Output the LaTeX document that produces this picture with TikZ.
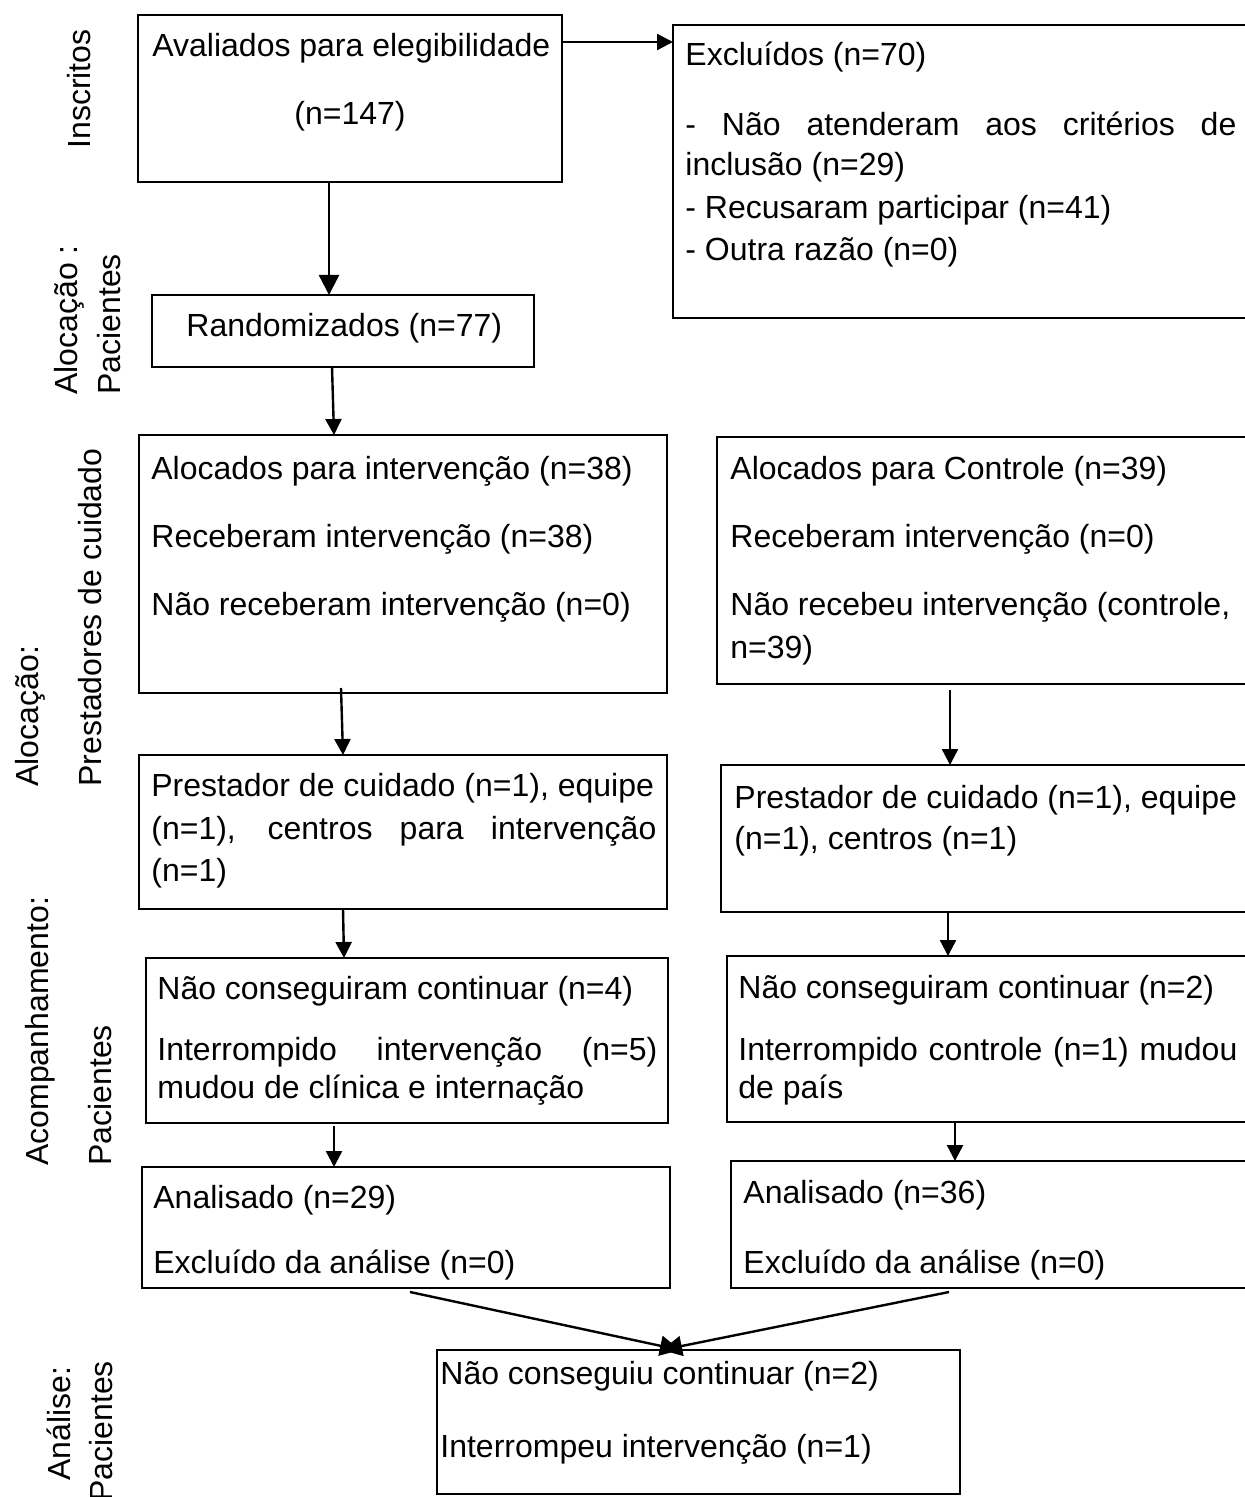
\documentclass[tikz,border=0pt]{standalone}
\usepackage{fontspec}
\setmainfont{Liberation Sans}
\usetikzlibrary{arrows.meta,fit,calc}
\newcommand{\fsz}{\fontsize{16pt}{21pt}\selectfont}
\tikzset{
  box/.style={draw, line width=1pt, inner sep=0pt, outer sep=0pt},
  txt/.style={inner sep=0pt, anchor=base west, font=\fsz},
  ctxt/.style={inner sep=0pt, anchor=base, font=\fsz},
  rot/.style={inner sep=0pt, rotate=90, anchor=base west, font=\fsz},
  arr/.style={line width=1.2pt, -{Triangle[length=8pt,width=8pt]}},
  bigarr/.style={line width=1.2pt, -{Triangle[length=10pt,width=10pt]}},
}
\begin{document}
\begin{tikzpicture}[x=0.5pt,y=-0.5pt]
\useasboundingbox (0,0) rectangle (1245,1497);
\clip (0,0) rectangle (1245,1497);

% boxes
\node[box, fit={(138,15) (562,182)}] (A) {};
\node[box, fit={(673,25) (1262,318)}] (B) {};
\node[box, fit={(152,295) (534,367)}] (C) {};
\node[box, fit={(139,435) (667,693)}] (D) {};
\node[box, fit={(717,437) (1262,684)}] (E) {};
\node[box, fit={(139,755) (667,909)}] (F) {};
\node[box, fit={(721,765) (1262,912)}] (G) {};
\node[box, fit={(146,958) (668,1123)}] (H) {};
\node[box, fit={(727,956) (1262,1122)}] (I) {};
\node[box, fit={(142,1167) (670,1288)}] (J) {};
\node[box, fit={(731,1161) (1262,1288)}] (K) {};
\node[box, fit={(437,1350) (960,1494)}] (L) {};

% texts
\node[txt] (a1) at (152,57) {Avaliados para elegibilidade};
\node[ctxt] (a2) at (350,125) {(n=147)};

\node[txt] (b1) at (685,66) {Excluídos (n=70)};
\node[txt] (b2) at (685,136) {\makebox[275.5pt][s]{- Não atenderam aos critérios de}};
\node[txt] (b3) at (685,176) {inclusão (n=29)};
\node[txt] (b4) at (685,219) {- Recusaram participar (n=41)};
\node[txt] (b5) at (685,261) {- Outra razão (n=0)};

\node[txt] (c1) at (186,337) {Randomizados (n=77)};

\node[txt] (d1) at (151,480) {Alocados para intervenção (n=38)};
\node[txt] (d2) at (151,547) {Receberam intervenção (n=38)};
\node[txt] (d3) at (151,615) {Não receberam intervenção (n=0)};

\node[txt] (e1) at (730,480) {Alocados para Controle (n=39)};
\node[txt] (e2) at (730,547) {Receberam intervenção (n=0)};
\node[txt] (e3) at (730,615) {Não recebeu intervenção (controle,};
\node[txt] (e4) at (730,658) {n=39)};

\node[txt] (f1) at (151,796) {Prestador de cuidado (n=1), equipe};
\node[txt] (f2) at (151,839) {\makebox[252.5pt][s]{(n=1), centros para intervenção}};
\node[txt] (f3) at (151,881) {(n=1)};

\node[txt] (g1) at (734,808) {Prestador de cuidado (n=1), equipe};
\node[txt] (g2) at (734,849) {(n=1), centros (n=1)};

\node[txt] (h1) at (157,999) {Não conseguiram continuar (n=4)};
\node[txt] (h2) at (157,1060) {\makebox[250pt][s]{Interrompido intervenção (n=5)}};
\node[txt] (h3) at (157,1098) {mudou de clínica e internação};

\node[txt] (i1) at (738,998) {Não conseguiram continuar (n=2)};
\node[txt] (i2) at (738,1060) {\makebox[249.5pt][s]{Interrompido controle (n=1) mudou}};
\node[txt] (i3) at (738,1098) {de país};

\node[txt] (j1) at (153,1208) {Analisado (n=29)};
\node[txt] (j2) at (153,1273) {Excluído da análise (n=0)};

\node[txt] (k1) at (743,1203) {Analisado (n=36)};
\node[txt] (k2) at (743,1273) {Excluído da análise (n=0)};

\node[txt] (l1) at (440,1384) {Não conseguiu continuar (n=2)};
\node[txt] (l2) at (440,1457) {Interrompeu intervenção (n=1)};

% side labels
\node[rot] (s1) at (90,149) {Inscritos};
\node[rot] (s2) at (77,395) {Alocação :};
\node[rot] (s3) at (120,395) {Pacientes};
\node[rot] (s4) at (38,787) {Alocação:};
\node[rot] (s5) at (101,787) {Prestadores de cuidado};
\node[rot] (s6) at (48,1166) {Acompanhamento:};
\node[rot] (s7) at (111,1166) {Pacientes};
\node[rot] (s8) at (70,1481) {Análise:};
\node[rot] (s9) at (112,1502) {Pacientes};

% connectors
\draw[arr] ($(A.north east)+(0,27)$) -- ($(B.north west)+(0,17)$);
\draw[bigarr] ($(A.south west)+(191,0)$) -- ($(C.north west)+(177,0)$);
\draw[arr] ($(C.south west)+(180,0)$) -- ($(D.north west)+(195,0)$);
\draw[arr] ($(D.south west)+(202,-5)$) -- ($(F.north west)+(204,0)$);
\draw[arr] ($(E.south west)+(233,6)$) -- ($(G.north west)+(229,0)$);
\draw[arr] ($(F.south west)+(204,0)$) -- ($(H.north west)+(198,0)$);
\draw[arr] ($(G.south west)+(227,0)$) -- ($(I.north west)+(221,0)$);
\draw[arr] ($(H.south west)+(188,3)$) -- ($(J.north west)+(192,0)$);
\draw[arr] ($(I.south west)+(228,0)$) -- ($(K.north west)+(224,0)$);
\draw[bigarr] ($(J.south west)+(268,4)$) -- ($(L.north west)+(243,0)$);
\draw[bigarr] ($(K.south west)+(218,4)$) -- ($(L.north west)+(225,0)$);
\end{tikzpicture}
\end{document}
